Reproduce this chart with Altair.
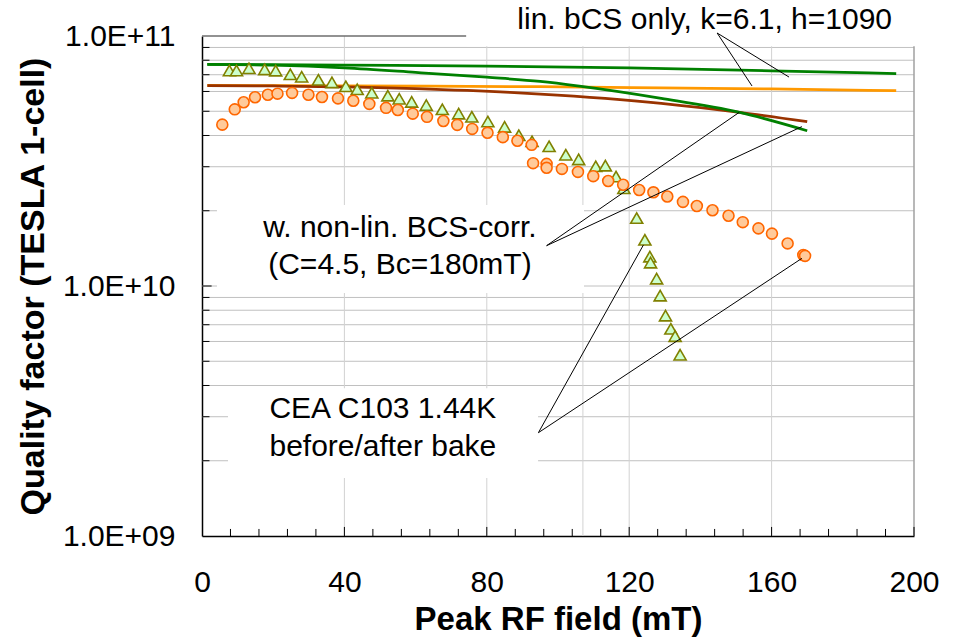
import altair as alt
import pandas as pd

# ---------------- data ----------------
# CEA C103 1.44K after bake (orange circles)
after_B = [5.7, 9.2, 11.7, 14.9, 18.5, 21.2, 25.3, 29.9, 33.7, 38.2, 42.5, 47.0, 51.7, 55.0,
           59.2, 63.2, 67.8, 71.7, 75.9, 80.2, 84.5, 88.6, 92.6, 93.0, 96.8, 96.8, 101.1, 105.6,
           109.9, 114.1, 118.3, 122.8, 126.8, 130.7, 135.1, 139.0, 143.4, 147.9, 151.9, 156.3,
           160.1, 164.5, 168.9, 169.4]
after_Q = [4.42e10, 5.09e10, 5.43e10, 5.69e10, 5.82e10, 5.88e10, 5.92e10, 5.82e10, 5.70e10, 5.63e10,
           5.51e10, 5.35e10, 5.16e10, 5.06e10, 4.89e10, 4.75e10, 4.57e10, 4.41e10, 4.25e10, 4.10e10,
           3.94e10, 3.81e10, 3.67e10, 3.10e10, 3.08e10, 2.97e10, 2.94e10, 2.86e10, 2.75e10, 2.63e10,
           2.54e10, 2.42e10, 2.37e10, 2.28e10, 2.17e10, 2.09e10, 2.01e10, 1.91e10, 1.80e10, 1.70e10,
           1.62e10, 1.48e10, 1.33e10, 1.32e10]

# CEA C103 1.44K before bake (green triangles)
before_B = [7.7, 9.7, 13.2, 17.6, 20.7, 24.8, 28.0, 32.7, 36.5, 40.4, 43.6, 47.7, 52.2, 55.4,
            58.9, 63.0, 67.5, 72.1, 75.8, 80.3, 85.0, 89.0, 92.7, 97.5, 102.2, 105.8, 110.6,
            113.3, 116.3, 118.5, 122.1, 124.4, 125.8, 126.0, 127.7, 128.7, 130.2, 131.7, 132.9, 134.3]
before_Q = [7.28e10, 7.28e10, 7.43e10, 7.35e10, 7.27e10, 7.03e10, 6.87e10, 6.68e10, 6.52e10, 6.29e10,
            6.12e10, 5.93e10, 5.77e10, 5.61e10, 5.45e10, 5.29e10, 5.09e10, 4.89e10, 4.75e10, 4.55e10,
            4.33e10, 4.01e10, 3.79e10, 3.62e10, 3.35e10, 3.21e10, 3.01e10, 3.03e10, 2.74e10, 2.46e10,
            1.87e10, 1.53e10, 1.31e10, 1.24e10, 1.07e10, 9.15e9, 7.61e9, 6.74e9, 6.30e9, 5.31e9]

# model curves
lin_green_B = [1.5, 40, 80, 120, 160, 195]
lin_green_Q = [7.70e10, 7.65e10, 7.58e10, 7.45e10, 7.26e10, 7.07e10]
lin_orange_B = [1.5, 40, 95, 129, 160, 195]
lin_orange_Q = [6.34e10, 6.31e10, 6.27e10, 6.20e10, 6.14e10, 6.04e10]
nl_brown_B = [1.5, 20, 44, 60, 86.5, 95, 129, 151, 170]
nl_brown_Q = [6.33e10, 6.31e10, 6.25e10, 6.16e10, 5.95e10, 5.86e10, 5.38e10, 4.95e10, 4.54e10]
nl_green_B = [1.5, 20, 40, 60, 80, 95, 106, 129, 151, 170]
nl_green_Q = [7.70e10, 7.64e10, 7.45e10, 7.15e10, 6.84e10, 6.58e10, 6.30e10, 5.63e10, 4.95e10, 4.18e10]

# annotations
label_text = ["lin. bCS only, k=6.1, h=1090", "w. non-lin. BCS-corr.", "(C=4.5, Bc=180mT)",
              "CEA C103 1.44K", "before/after bake"]
label_B = [141.2, 55.6, 55.6, 50.8, 50.8]
label_Q = [1.159e11, 1.706e10, 1.213e10, 3.22e9, 2.27e9]

leader_B = [144.7, 144.7, 96.8, 96.8, 94.5, 94.5]
leader_Q = [1.028e11, 1.028e11, 1.45e10, 1.45e10, 2.59e9, 2.59e9]
leader_B2 = [164.9, 154.5, 150.9, 168.5, 124.0, 168.5]
leader_Q2 = [6.85e10, 6.31e10, 4.95e10, 4.34e10, 1.46e10, 1.29e10]

# white label boxes
box_B = [74.2, 4.2, 7.3]
box_B2 = [207.0, 107.3, 94.4]
box_Q = [9.1e10, 9.37e9, 1.706e9]
box_Q2 = [1.37e11, 2.11e10, 3.9e9]

# grid / ticks
x_label_values = [0, 40, 80, 120, 160, 200]
y_label_values = [1e9, 1e10, 1e11]
h_grid_values = [2e9, 3e9, 4e9, 5e9, 6e9, 7e9, 8e9, 9e9, 1e10,
                 2e10, 3e10, 4e10, 5e10, 6e10, 7e10, 8e10, 9e10]
v_grid_values = [40, 80, 107, 120, 160]
x_tick_values = list(range(8, 201, 8))

FONT = "Liberation Sans"

# ---------------- scales / axes ----------------
xs = alt.Scale(domain=[0, 200], nice=False, zero=False)
ys = alt.Scale(type="log", domain=[1e9, 1e11], nice=False)

xa = alt.Axis(values=x_label_values, title="Peak RF field (mT)", titleFont=FONT,
              titleFontSize=33, titleFontWeight="bold", titleColor="black", titlePadding=6,
              labelFont=FONT, labelFontSize=30, labelColor="black", labelPadding=31,
              labelFlush=False, labelOverlap=False, ticks=False, tickSize=0, grid=False,
              domainColor="black", domainWidth=1.5)
ya = alt.Axis(values=y_label_values,
              labelExpr="datum.value >= 5e10 ? '1.0E+11' : datum.value >= 5e9 ? '1.0E+10' : '1.0E+09'",
              title="Quality factor (TESLA 1-cell)", titleFont=FONT, titleFontSize=34,
              titleFontWeight="bold", titleColor="black", titlePadding=12,
              labelFont=FONT, labelFontSize=30, labelColor="black", labelPadding=27,
              labelFlush=False, labelOverlap=False, ticks=False, tickSize=0, grid=False,
              domainColor="black", domainWidth=1.5)


def X(f="B"):
    return alt.X(f + ":Q", scale=xs, axis=xa)


def Y(f="Q"):
    return alt.Y(f + ":Q", scale=ys, axis=ya)


# ---------------- tables ----------------
hgrid = pd.DataFrame({"Q": h_grid_values, "B": 0.0, "B2": 200.0})
vgrid = pd.DataFrame({"B": v_grid_values, "Q": 1e9, "Q2": 1e11})
border_h = pd.DataFrame({"B": [0.0], "B2": [200.0], "Q": [1e11]})
border_v = pd.DataFrame({"B": [200.0], "Q": [1e9], "Q2": [1e11]})
boxes = pd.DataFrame({"B": box_B, "B2": box_B2, "Q": box_Q, "Q2": box_Q2})

xt = pd.DataFrame({"B": x_tick_values, "Q": 1e9,
                   "Q2": [1.087e9 if v % 40 == 0 else 1.067e9 for v in x_tick_values]})
yt = pd.DataFrame({"Q": h_grid_values, "B": 0.0,
                   "B2": [2.7 if v == 1e10 else 2.1 for v in h_grid_values]})

curves = pd.concat([
    pd.DataFrame({"B": lin_green_B, "Q": lin_green_Q, "c": "lin_green"}),
    pd.DataFrame({"B": lin_orange_B, "Q": lin_orange_Q, "c": "lin_orange"}),
    pd.DataFrame({"B": nl_brown_B, "Q": nl_brown_Q, "c": "nl_brown"}),
    pd.DataFrame({"B": nl_green_B, "Q": nl_green_Q, "c": "nl_green"}),
])
after = pd.DataFrame({"B": after_B, "Q": after_Q})
before = pd.DataFrame({"B": before_B, "Q": before_Q})
leaders = pd.DataFrame({"B": leader_B, "Q": leader_Q, "B2": leader_B2, "Q2": leader_Q2})
labels = pd.DataFrame({"B": label_B, "Q": label_Q, "t": label_text})

# ---------------- layers ----------------
l_hgrid = alt.Chart(hgrid).mark_rule(color="#c0c0c0", strokeWidth=1).encode(
    x=X(), x2="B2:Q", y=Y())
l_vgrid = alt.Chart(vgrid).mark_rule(color="#d2d2d2", strokeWidth=1).encode(
    x=X(), y=Y(), y2="Q2:Q")
l_bh = alt.Chart(border_h).mark_rule(color="#6e6e6e", strokeWidth=1.3).encode(
    x=X(), x2="B2:Q", y=Y())
l_bv = alt.Chart(border_v).mark_rule(color="#a0a0a0", strokeWidth=1.5).encode(
    x=X(), y=Y(), y2="Q2:Q")
l_boxes = alt.Chart(boxes).mark_rect(fill="white", stroke="white", strokeWidth=0).encode(
    x=X(), x2="B2:Q", y=Y(), y2="Q2:Q")
l_xt = alt.Chart(xt).mark_rule(color="black", strokeWidth=1).encode(
    x=X(), y=Y(), y2="Q2:Q")
l_yt = alt.Chart(yt).mark_rule(color="black", strokeWidth=1).encode(
    x=X(), x2="B2:Q", y=Y())

l_curves = alt.Chart(curves).mark_line(strokeWidth=2.75, interpolate="monotone").encode(
    x=X(), y=Y(), detail="c:N",
    color=alt.Color("c:N", legend=None, scale=alt.Scale(
        domain=["lin_green", "lin_orange", "nl_brown", "nl_green"],
        range=["#008000", "#FF9900", "#993300", "#008000"])))

l_before = alt.Chart(before).mark_point(shape="triangle-up", filled=True, size=145,
                                         fill="#CCFFCC", stroke="#808000", strokeWidth=1.6,
                                         opacity=1).encode(x=X(), y=Y())
l_after = alt.Chart(after).mark_point(shape="circle", filled=True, size=120,
                                       fill="#FFCA9A", stroke="#FF6600", strokeWidth=1.6,
                                       opacity=1).encode(x=X(), y=Y())

l_leaders = alt.Chart(leaders).mark_rule(color="black", strokeWidth=1).encode(
    x=X(), x2="B2:Q", y=Y(), y2="Q2:Q")
l_labels = alt.Chart(labels).mark_text(font=FONT, fontSize=30, color="black",
                                       align="center", baseline="middle").encode(
    x=X(), y=Y(), text="t:N")

chart = alt.layer(
    l_hgrid, l_vgrid, l_bh, l_bv, l_boxes, l_xt, l_yt,
    l_curves, l_before, l_after, l_leaders, l_labels
).properties(
    width=712, height=500,
    autosize=alt.AutoSizeParams(type="none"),
    padding={"left": 202, "top": 36, "right": 45, "bottom": 101},
    background="white",
).configure_view(stroke="transparent")

chart.save("out.html", embed_options={"renderer": "svg", "actions": False})
